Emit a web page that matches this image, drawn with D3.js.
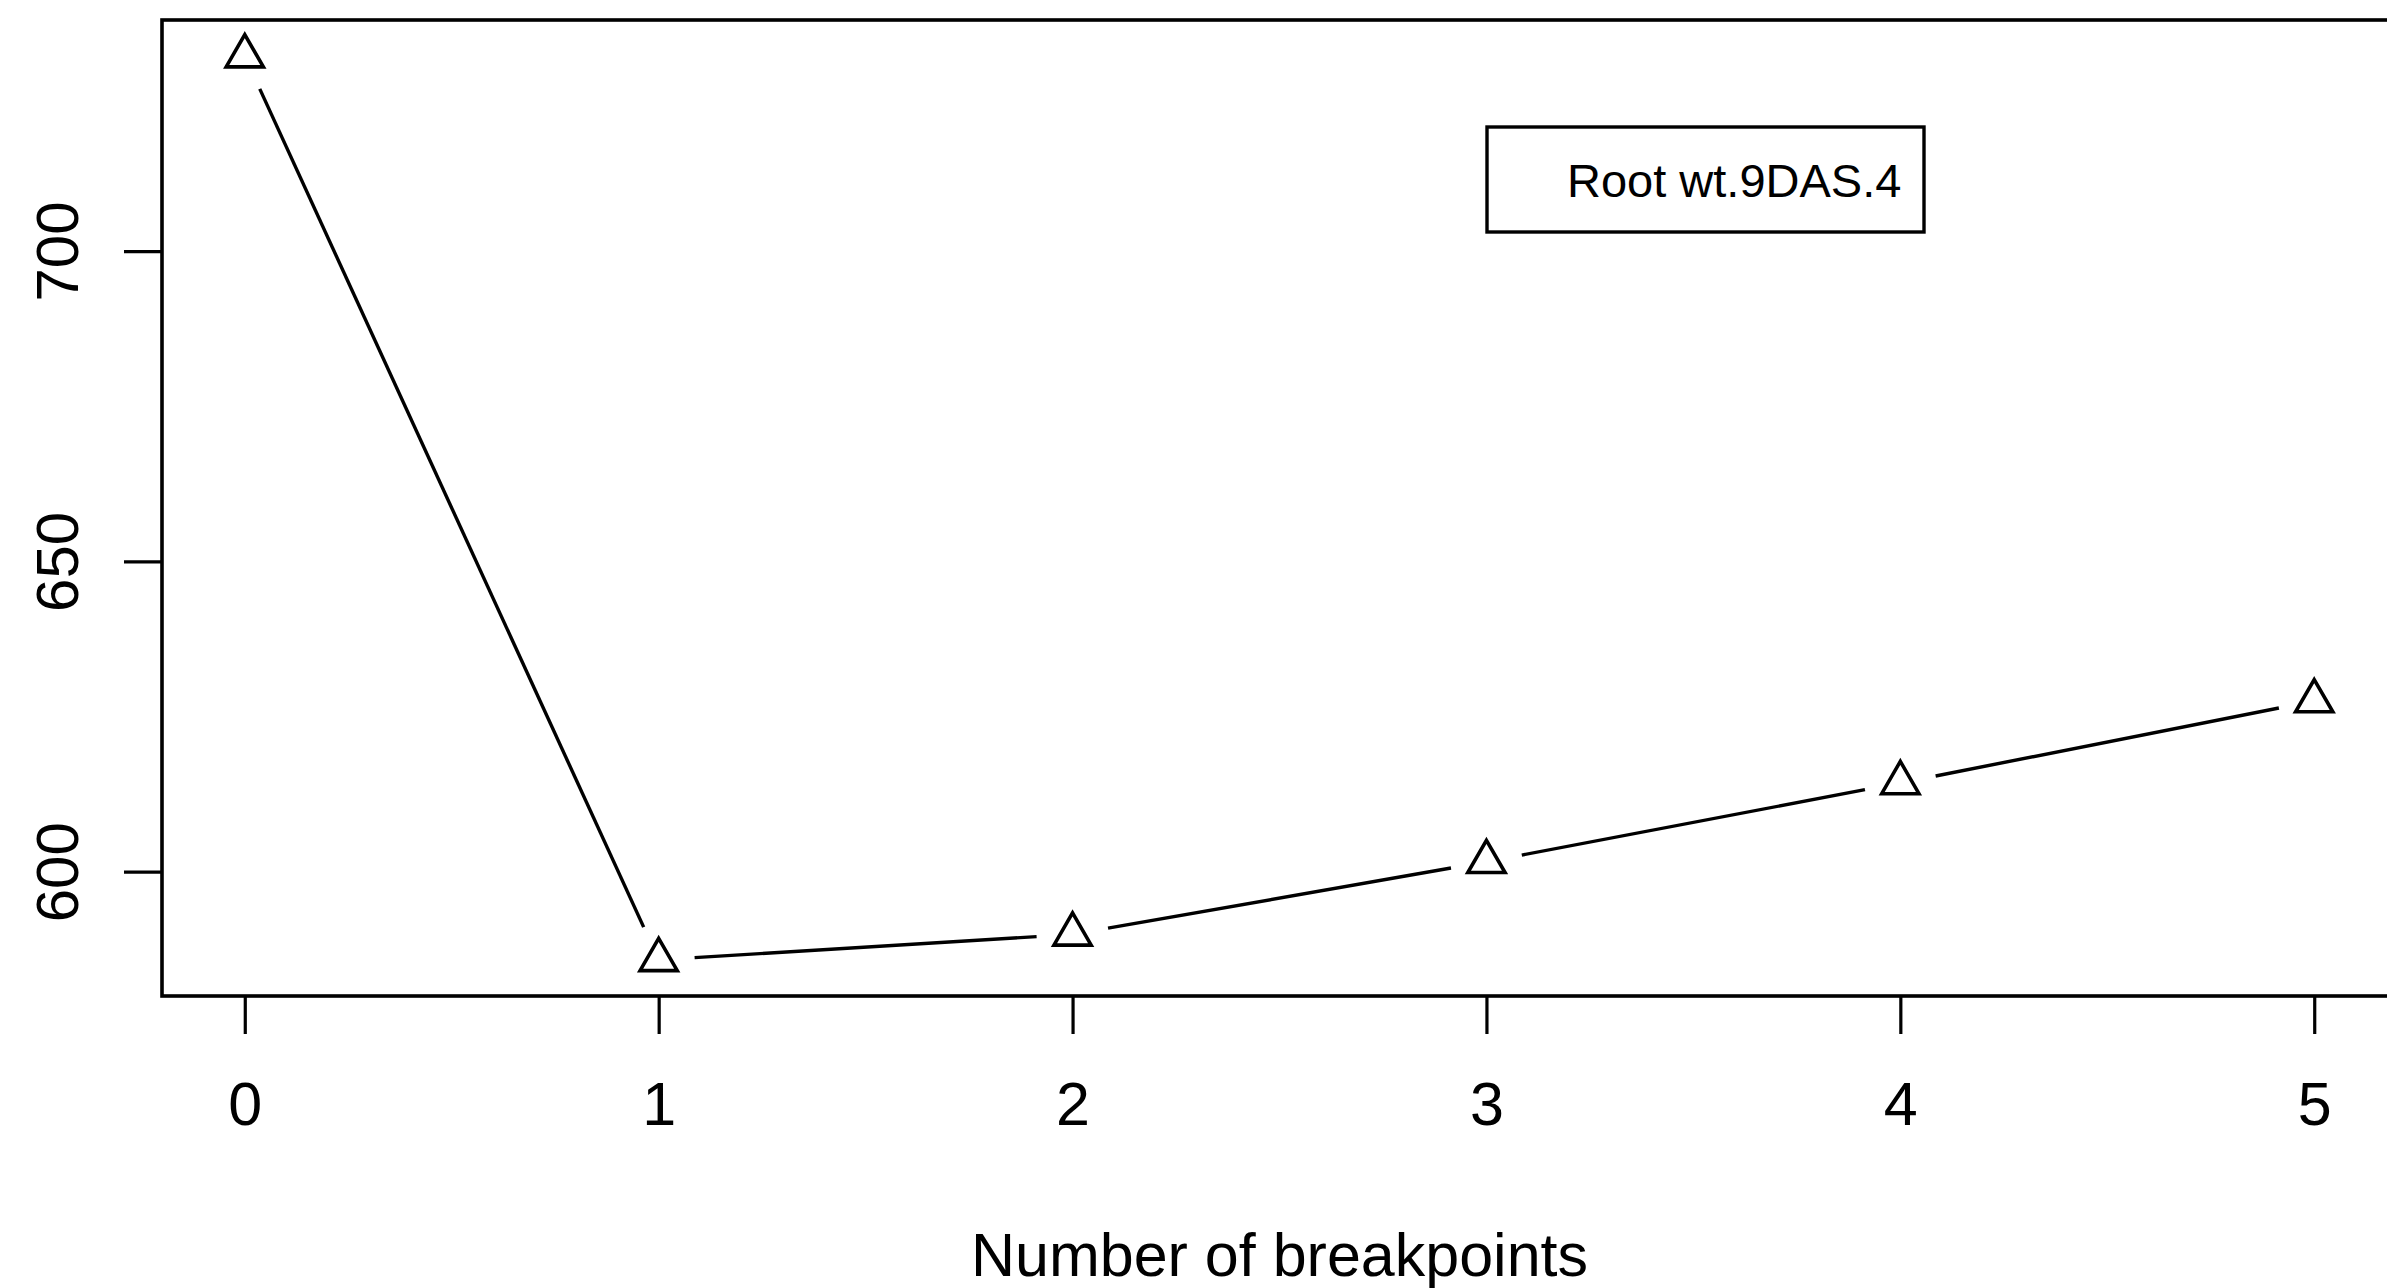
<!DOCTYPE html>
<html>
<head>
<meta charset="utf-8">
<script src="https://d3js.org/d3.v7.min.js"></script>
<style>
  html, body { margin: 0; padding: 0; background: #ffffff; }
  svg { display: block; }
</style>
</head>
<body>
<div id="chart"></div>
<script>
// Breakpoint selection curve - Root wt.9DAS.4
const breakpoints = [0, 1, 2, 3, 4, 5];
const scores = [731.4, 585.8, 589.9, 601.6, 614.3, 627.5];
const yTicks = [600, 650, 700];
const seriesName = 'Root wt.9DAS.4';
const xLabel = 'Number of breakpoints';

document.addEventListener('DOMContentLoaded', function() {
    drawChart();
});

function drawChart() {
    const width = 2387;
    const height = 1288;
    const font = '"Liberation Sans", Arial, Helvetica, sans-serif';

    const points = breakpoints.map((b, i) => ({ x: b, y: scores[i] }));

    // R style axis limits: data range padded by 4% on each side
    const padRange = ext => {
        const p = (ext[1] - ext[0]) * 0.04;
        return [ext[0] - p, ext[1] + p];
    };

    const x = d3.scaleLinear()
        .domain(padRange(d3.extent(breakpoints)))
        .range([162, 2397]);

    const y = d3.scaleLinear()
        .domain(padRange(d3.extent(scores)))
        .range([996, 20]);

    const svg = d3.select('#chart').append('svg')
        .attr('width', width)
        .attr('height', height)
        .attr('viewBox', [0, 0, width, height])
        .style('background', '#ffffff')
        .style('font-family', font);

    // Plot box
    svg.append('rect')
        .attr('x', x.range()[0])
        .attr('y', y.range()[1])
        .attr('width', x.range()[1] - x.range()[0])
        .attr('height', y.range()[0] - y.range()[1])
        .attr('fill', 'none')
        .attr('stroke', '#000')
        .attr('stroke-width', 3.6);

    // X axis
    const xAxis = svg.append('g')
        .attr('transform', `translate(0, ${y.range()[0]})`)
        .call(d3.axisBottom(x).tickValues(breakpoints).tickSize(38).tickPadding(48).tickFormat(d3.format('d')));
    xAxis.select('.domain').remove();
    xAxis.selectAll('.tick line').attr('stroke', '#000').attr('stroke-width', 3.2);
    xAxis.selectAll('.tick text')
        .attr('fill', '#000')
        .style('font-size', '61px')
        .style('font-family', font);

    // Y axis
    const yAxis = svg.append('g')
        .attr('transform', `translate(${x.range()[0]}, 0)`)
        .call(d3.axisLeft(y).tickValues(yTicks).tickSize(38).tickFormat(d3.format('d')));
    yAxis.select('.domain').remove();
    yAxis.selectAll('.tick line').attr('stroke', '#000').attr('stroke-width', 3.2);
    yAxis.selectAll('.tick text')
        .attr('fill', '#000')
        .attr('x', null)
        .attr('dy', null)
        .attr('text-anchor', 'middle')
        .attr('transform', `translate(${78 - x.range()[0]}, 0) rotate(-90)`)
        .style('font-size', '60px')
        .style('font-family', font);

    // Connecting segments with gaps around the points (type = "b")
    const gap = 36;
    const segments = d3.pairs(points).map(([a, b]) => {
        const x1 = x(a.x), y1 = y(a.y), x2 = x(b.x), y2 = y(b.y);
        const len = Math.hypot(x2 - x1, y2 - y1);
        const ux = (x2 - x1) / len, uy = (y2 - y1) / len;
        return { x1: x1 + ux * gap, y1: y1 + uy * gap, x2: x2 - ux * gap, y2: y2 - uy * gap };
    });

    svg.append('g')
        .selectAll('line')
        .data(segments)
        .join('line')
        .attr('x1', d => d.x1)
        .attr('y1', d => d.y1)
        .attr('x2', d => d.x2)
        .attr('y2', d => d.y2)
        .attr('stroke', '#000')
        .attr('stroke-width', 3.4);

    // Open triangles
    const triangle = d3.symbol().type(d3.symbolTriangle).size(600);
    svg.append('g')
        .selectAll('path')
        .data(points)
        .join('path')
        .attr('d', triangle)
        .attr('transform', d => `translate(${x(d.x)}, ${y(d.y)})`)
        .attr('fill', 'none')
        .attr('stroke', '#000')
        .attr('stroke-width', 3.6);

    // Legend
    const legend = svg.append('g').attr('class', 'legend');
    legend.append('rect')
        .attr('x', 1487)
        .attr('y', 127)
        .attr('width', 437)
        .attr('height', 105)
        .attr('fill', '#fff')
        .attr('stroke', '#000')
        .attr('stroke-width', 3.4);
    legend.append('text')
        .attr('x', 1567)
        .attr('y', 197)
        .attr('fill', '#000')
        .style('font-size', '47px')
        .text(seriesName);

    // X axis title
    svg.append('text')
        .attr('x', (x.range()[0] + x.range()[1]) / 2)
        .attr('y', 1276)
        .attr('text-anchor', 'middle')
        .attr('fill', '#000')
        .style('font-size', '61px')
        .text(xLabel);

    console.log('Chart drawn with', points.length, 'points');
}
</script>
</body>
</html>
